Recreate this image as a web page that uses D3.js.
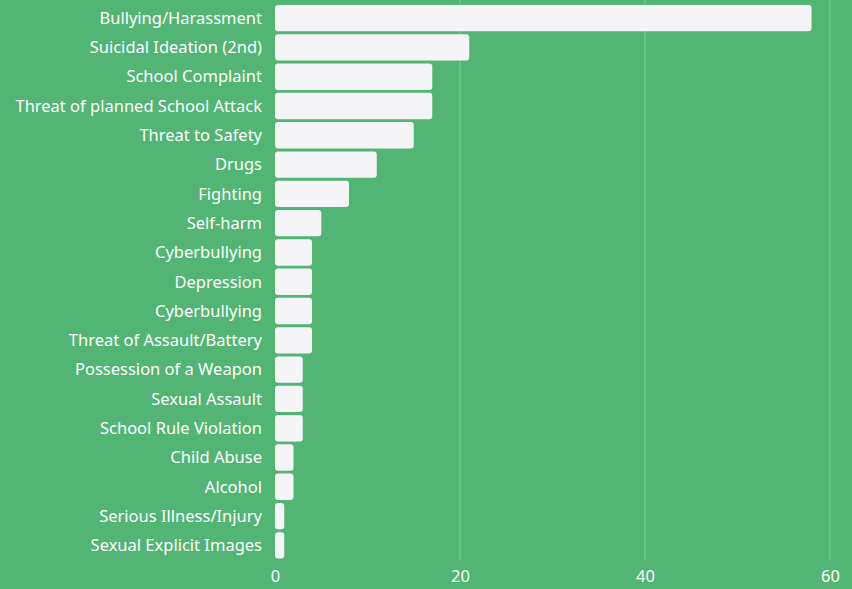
<!DOCTYPE html>
<html><head><meta charset="utf-8">
<script src="https://cdn.jsdelivr.net/npm/d3@7"></script>
<style>
html,body{margin:0;padding:0;background:#52b574;}
svg{display:block;font-family:"Noto Sans","Open Sans",sans-serif;}
</style></head>
<body><svg id="chart" width="852" height="589"></svg>
<script>
const categories = ["Bullying/Harassment","Suicidal Ideation (2nd)","School Complaint","Threat of planned School Attack","Threat to Safety","Drugs","Fighting","Self-harm","Cyberbullying","Depression","Cyberbullying","Threat of Assault/Battery","Possession of a Weapon","Sexual Assault","School Rule Violation","Child Abuse","Alcohol","Serious Illness/Injury","Sexual Explicit Images"];
const values = [58,21,17,17,15,11,8,5,4,4,4,4,3,3,3,2,2,1,1];
const xTicks = [0,20,40,60];

(function(){
const svg = d3.select("#chart");
const W = 852, H = 589;
const mLeft = 275, mRight = 830, mTop = 3.5, mBottom = 560;
svg.append("rect").attr("width",W).attr("height",H).attr("fill","#52b574");

const x = d3.scaleLinear().domain([0,60]).range([mLeft,mRight]);
const idx = categories.map((d,i)=>i);
const y = d3.scaleBand().domain(idx).range([mTop,mBottom]).paddingInner(0.1).paddingOuter(0.05);

svg.append("g").selectAll("line").data(xTicks.slice(1)).join("line")
  .attr("x1",d=>x(d)).attr("x2",d=>x(d)).attr("y1",0).attr("y2",mBottom)
  .attr("stroke","#ffffff").attr("stroke-opacity",0.3).attr("stroke-width",1);

svg.append("g").selectAll("rect").data(idx).join("rect")
  .attr("x",x(0)).attr("y",i=>y(i))
  .attr("width",i=>x(values[i])-x(0)).attr("height",y.bandwidth())
  .attr("rx",3).attr("fill","#f5f5f7");

svg.append("g").selectAll("text").data(idx).join("text")
  .attr("x",262).attr("y",i=>y(i)+y.bandwidth()/2)
  .attr("dy","0.35em").attr("text-anchor","end")
  .attr("fill","#ffffff").attr("font-size",16.5).text(i=>categories[i]);

const ax = svg.append("g").attr("transform",`translate(0,${mBottom})`)
  .call(d3.axisBottom(x).tickValues(xTicks).tickSize(0).tickPadding(10));
ax.select(".domain").remove();
ax.selectAll("text").attr("fill","#ffffff").attr("font-size",16.5).attr("font-family","Noto Sans, sans-serif");
})();
</script></body></html>
